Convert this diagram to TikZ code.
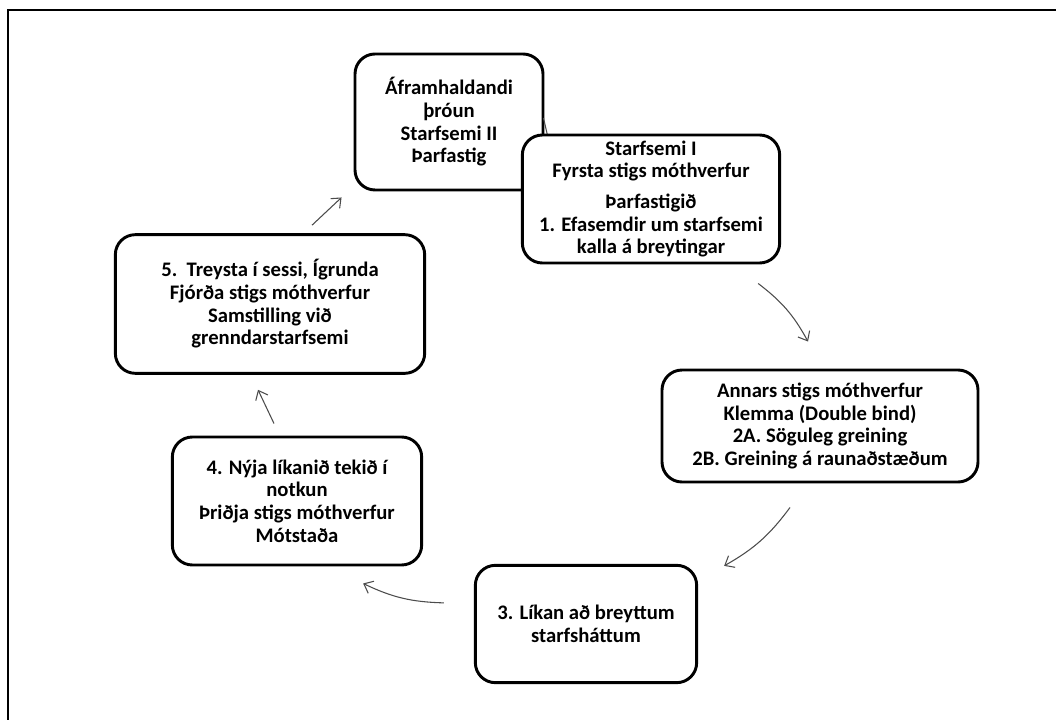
\documentclass[tikz,border=0pt]{standalone}
\usepackage{fontspec}
\setmainfont{Carlito}
\usetikzlibrary{arrows.meta}

\begin{document}
\begin{tikzpicture}[x=0.75pt,y=-0.75pt,
	stage/.style={draw, line width=2.2pt, rounded corners=15pt, fill=white, align=center,
		inner sep=0pt, font=\bfseries\fontsize{15.5}{17}\selectfont},
	link/.style={draw=black!70, line width=0.8pt, -{Straight Barb[length=6pt,width=10pt]}}]
		\useasboundingbox (0,0) rectangle (1056,720);
		\clip (0,0) rectangle (1056,720);
		% Draw frame
		\draw[line width=2pt] (8,10) rectangle (1080,760);
		% Stages of the cycle
		\node[stage, minimum width=141pt, minimum height=102pt] (cont) at (449,122)
			{Áframhaldandi\\þróun\\Starfsemi II\\Þarfastig};
		\draw[link,-] ([shift={(16,0)}]cont.south east) -- ([shift={(-1,-4)}]cont.east);
		\node[stage, minimum width=193pt, minimum height=96pt] (first) at (651,199)
			{Starfsemi I\\Fyrsta stigs móthverfur\\[6pt]Þarfastigið\\1. Efasemdir um starfsemi\\kalla á breytingar};
		\node[stage, minimum width=237pt, minimum height=84pt] (second) at (820,426)
			{Annars stigs móthverfur\\Klemma (Double bind)\\2A. Söguleg greining\\2B. Greining á raunaðstæðum};
		\node[stage, minimum width=166pt, minimum height=88pt] (model) at (586,624)
			{3. Líkan að breyttum\\starfsháttum};
		\node[stage, minimum width=187pt, minimum height=96pt] (use) at (297,501)
			{4. Nýja líkanið tekið í\\notkun\\Þriðja stigs móthverfur\\Mótstaða};
		\node[stage, minimum width=232pt, minimum height=104pt] (settle) at (270,304)
			{5.\ \ Treysta í sessi, Ígrunda\\Fjórða stigs móthverfur\\Samstilling við\\grenndarstarfsemi};
		% Arrows between stages
		\draw[link] ([shift={(-23,19)}]first.south east) to[bend left=12] ([shift={(-12,-27)}]second.north);
		\draw[link] ([shift={(-30,24)}]second.south) to[bend left=12] ([shift={(26,2)}]model.north east);
		\draw[link] ([shift={(-30,39)}]model.north west) to[bend left=12] ([shift={(-60,17)}]use.south east);
		\draw[link] ([shift={(-23,-12)}]use.north) -- ([shift={(-12,15)}]settle.south);
		\draw[link] ([shift={(42,-8)}]settle.north) -- ([shift={(-12,6)}]cont.south west);
	\end{tikzpicture}
\end{document}
